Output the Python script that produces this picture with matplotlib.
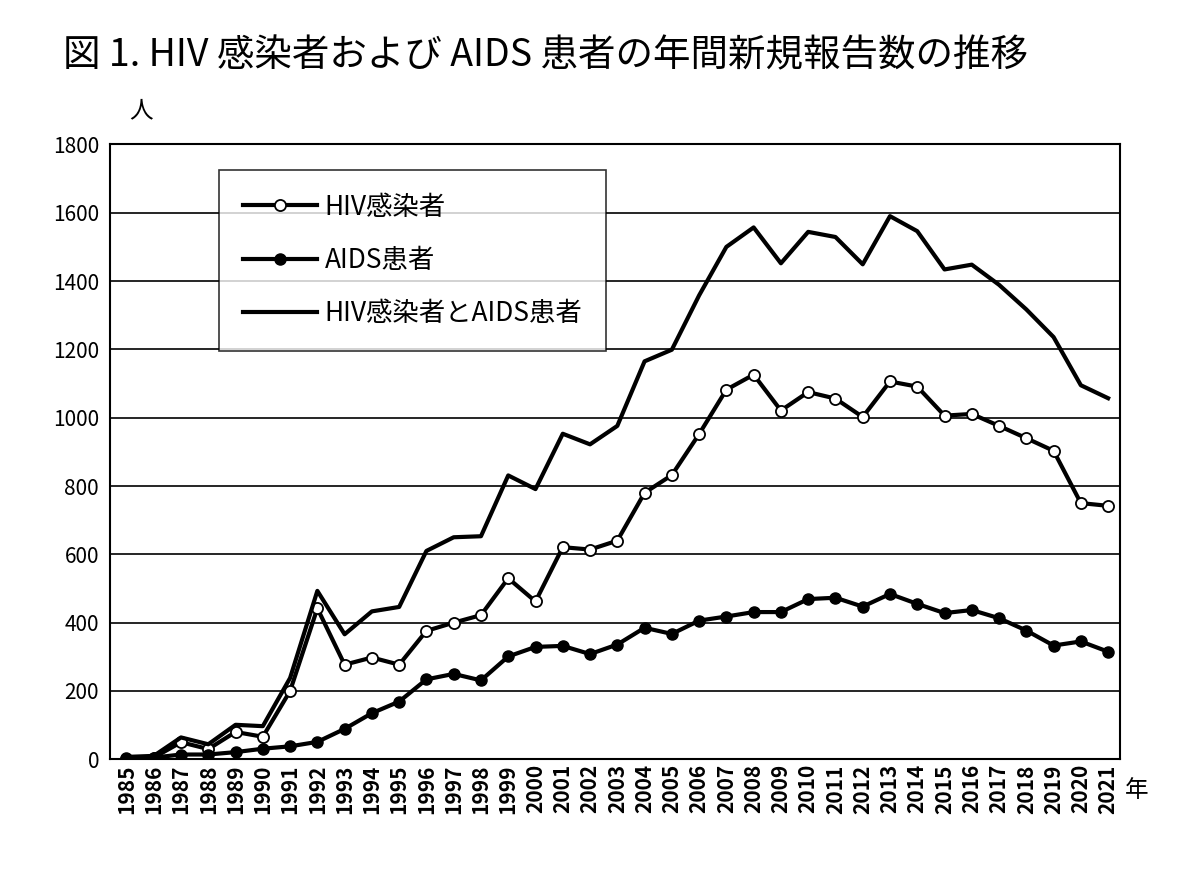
import matplotlib
matplotlib.use("Agg")
import matplotlib.pyplot as plt
import numpy as np

plt.rcParams['font.family'] = ['Noto Sans CJK JP', 'DejaVu Sans']

years = list(range(1985, 2022))
hiv = [2, 5, 50, 30, 80, 66, 200, 442, 277, 298, 277, 376, 400, 422, 530, 462, 621, 614, 640,
       780, 832, 952, 1082, 1126, 1021, 1075, 1056, 1002, 1106, 1091, 1006, 1011, 976, 940, 903, 750, 742]
aids = [5, 5, 14, 14, 21, 31, 38, 51, 89, 135, 169, 234, 250, 231, 301, 329, 332, 308, 336,
        385, 367, 406, 418, 431, 431, 469, 473, 447, 484, 455, 428, 437, 413, 377, 333, 345, 315]
total = [a + b for a, b in zip(hiv, aids)]

fig = plt.figure(figsize=(11.97, 8.86), dpi=100)
ax = fig.add_axes([0.092, 0.143, 0.844, 0.694])
ax.plot(years, hiv, '-', color='black', lw=3, marker='o', ms=8, mfc='white', mec='black', mew=1.3, label='HIV感染者', zorder=3)
ax.plot(years, aids, '-', color='black', lw=3, marker='o', ms=8, mfc='black', mec='black', label='AIDS患者', zorder=3)
ax.plot(years, total, '-', color='black', lw=3, label='HIV感染者とAIDS患者', zorder=3)

ax.set_xlim(1984.4, 2021.45)
ax.set_ylim(0, 1800)
ax.set_yticks(range(0, 1801, 200))
ax.set_xticks(years)
ax.set_xticklabels([str(y) for y in years], rotation=90, fontsize=15, fontweight='bold')
ax.tick_params(axis='y', labelsize=15, pad=8)
ax.grid(axis='y', color='black', lw=1.2)
ax.set_axisbelow(True)
for s in ax.spines.values():
    s.set_linewidth(1.5)
ax.tick_params(length=0)

leg = ax.legend(loc='upper left', bbox_to_anchor=(0.095, 0.98), fontsize=19, frameon=True,
                fancybox=False, edgecolor='black', handlelength=2.8, labelspacing=1.0,
                borderpad=0.9, handletextpad=0.3)
leg.get_frame().set_linewidth(1.2)

fig.text(0.053, 0.937, '図 1. HIV 感染者および AIDS 患者の年間新規報告数の推移', fontsize=27, va='center')
fig.text(0.108, 0.875, '人', fontsize=17, va='center')
fig.text(0.94, 0.108, '年', fontsize=17, va='center')
fig.savefig('out.png', dpi=100)
